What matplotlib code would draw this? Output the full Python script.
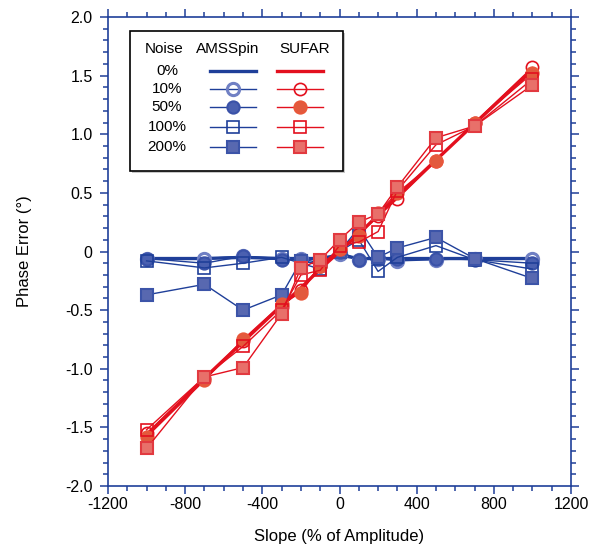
import matplotlib
matplotlib.use("Agg")
import matplotlib.pyplot as plt
from matplotlib.lines import Line2D
from matplotlib.patches import Rectangle
from matplotlib.ticker import MultipleLocator

plt.rcParams['font.family'] = ['Liberation Sans', 'DejaVu Sans']
plt.rcParams['axes.unicode_minus'] = False

# slope values (% of amplitude)
slope = [-1000, -700, -500, -300, -200, -100, 0, 100, 200, 300, 500, 700, 1000]

# AMSSpin phase error (deg)
ams_0 = [-0.06, -0.06, -0.05, -0.06, -0.06, -0.06, -0.03, -0.06, -0.06, -0.06, -0.06, -0.06, -0.06]
ams_10 = [-0.06, -0.06, -0.04, -0.06, -0.06, -0.10, -0.02, -0.07, -0.06, -0.08, -0.07, -0.06, -0.06]
ams_50 = [-0.06, -0.10, -0.04, -0.07, -0.07, -0.12, 0.00, -0.07, -0.05, -0.06, -0.06, -0.07, -0.10]
ams_100 = [-0.08, -0.14, -0.10, -0.05, -0.10, -0.15, 0.00, 0.10, -0.17, -0.05, 0.05, -0.07, -0.15]
ams_200 = [-0.37, -0.28, -0.50, -0.37, -0.08, -0.11, 0.00, 0.20, -0.05, 0.03, 0.12, -0.06, -0.23]

# SUFAR phase error (deg)
suf_0 = [-1.57, -1.08, -0.77, -0.46, -0.31, -0.15, 0.00, 0.15, 0.31, 0.47, 0.78, 1.09, 1.55]
suf_10 = [-1.55, -1.08, -0.76, -0.47, -0.33, -0.12, 0.02, 0.15, 0.30, 0.45, 0.77, 1.10, 1.57]
suf_50 = [-1.58, -1.10, -0.75, -0.45, -0.35, -0.12, 0.02, 0.13, 0.33, 0.50, 0.77, 1.10, 1.52]
suf_100 = [-1.52, -1.07, -0.81, -0.50, -0.20, -0.16, 0.05, 0.08, 0.17, 0.52, 0.91, 1.07, 1.47]
suf_200 = [-1.68, -1.07, -0.99, -0.53, -0.14, -0.07, 0.10, 0.25, 0.32, 0.55, 0.97, 1.07, 1.42]

noise_labels = ["0%", "10%", "50%", "100%", "200%"]

blue = "#1f3f99"
red = "#e3101e"

# line / marker style per noise level
blue_styles = [
    dict(marker=None, lw=2.4),
    dict(marker="o", mfc="none", mec="#7080c4", mew=2.2, lw=1.0),
    dict(marker="o", mfc="#4a60b0", mec="#3a52a8", mew=1.5, lw=1.0),
    dict(marker="s", mfc="none", mec=blue, mew=1.2, lw=1.0),
    dict(marker="s", mfc="#5868b0", mec="#3c54a8", mew=1.5, lw=1.0),
]
red_styles = [
    dict(marker=None, lw=2.4),
    dict(marker="o", mfc="none", mec=red, mew=1.2, lw=1.0),
    dict(marker="o", mfc="#e25a3e", mec="#e8583a", mew=1.5, lw=1.0),
    dict(marker="s", mfc="none", mec=red, mew=1.2, lw=1.0),
    dict(marker="s", mfc="#e8706a", mec="#e23a40", mew=1.5, lw=1.0),
]
MS = 8.8

fig = plt.figure(figsize=(5.9, 5.45), dpi=100)
ax = fig.add_axes([108 / 590, 59 / 545, 463 / 590, 469 / 545])

ams = [ams_0, ams_10, ams_50, ams_100, ams_200]
suf = [suf_0, suf_10, suf_50, suf_100, suf_200]

for ys, st in zip(ams, blue_styles):
    ax.plot(slope, ys, color=blue, ms=MS, **st)
for ys, st in zip(suf, red_styles):
    ax.plot(slope, ys, color=red, ms=MS, **st)

ax.set_xlim(-1200, 1200)
ax.set_ylim(-2.0, 2.0)
ax.xaxis.set_major_locator(MultipleLocator(400))
ax.xaxis.set_minor_locator(MultipleLocator(100))
ax.yaxis.set_major_locator(MultipleLocator(0.5))
ax.yaxis.set_minor_locator(MultipleLocator(0.1))
ax.yaxis.set_major_formatter(plt.FuncFormatter(lambda v, p: "0" if abs(v) < 1e-9 else f"{v:.1f}"))

for sp in ax.spines.values():
    sp.set_color(blue)
    sp.set_linewidth(1.2)
ax.tick_params(which="both", direction="out", top=True, right=True,
               color=blue, width=1.1, labelsize=11.5, labelcolor="black")
ax.tick_params(which="major", length=6)
ax.tick_params(which="minor", length=3.5)
ax.tick_params(axis="x", pad=2)
ax.tick_params(axis="y", pad=5)

ax.set_xlabel("Slope (% of Amplitude)", fontsize=12, labelpad=12)
ax.set_ylabel("Phase Error (°)", fontsize=12, labelpad=24)

# legend box drawn by hand (pixel positions -> axes coords)
def axc(px, py):
    return ((px - 108) / 463.0, (486 - py) / 469.0)

x0, y0 = axc(130, 171)
x1, y1 = axc(343, 31)
ax.add_patch(Rectangle((x0 + 0.004, y0 - 0.004), x1 - x0, y1 - y0,
                       transform=ax.transAxes, facecolor="#c8c8c8",
                       edgecolor="none", zorder=4))
ax.add_patch(Rectangle((x0, y0), x1 - x0, y1 - y0, transform=ax.transAxes,
                       facecolor="white", edgecolor="black", lw=1.2, zorder=5))

for hxp, txt in [(164, "Noise"), (228, "AMSSpin"), (305, "SUFAR")]:
    hx, hy = axc(hxp, 49)
    ax.text(hx, hy, txt, transform=ax.transAxes, ha="center", va="center",
            fontsize=11, zorder=6)

row_y = [71, 89, 107, 127, 147]
for lab, ry, bs, rs in zip(noise_labels, row_y, blue_styles, red_styles):
    tx, ty = axc(167, ry)
    ax.text(tx, ty, lab, transform=ax.transAxes, ha="center", va="center",
            fontsize=11, zorder=6)
    for (pa, pb), col, st in [((210, 256), blue, bs), ((277, 323), red, rs)]:
        xa, ay = axc(pa, ry)
        xb, _ = axc(pb, ry)
        ax.add_line(Line2D([xa, xb], [ay, ay], color=col, lw=st["lw"],
                           transform=ax.transAxes, zorder=6))
        if st["marker"]:
            mk = {k: v for k, v in st.items() if k != "lw"}
            ax.add_line(Line2D([(xa + xb) / 2], [ay], color=col, ms=MS,
                               ls="none", transform=ax.transAxes, zorder=7, **mk))

fig.savefig("out.png", dpi=100)
